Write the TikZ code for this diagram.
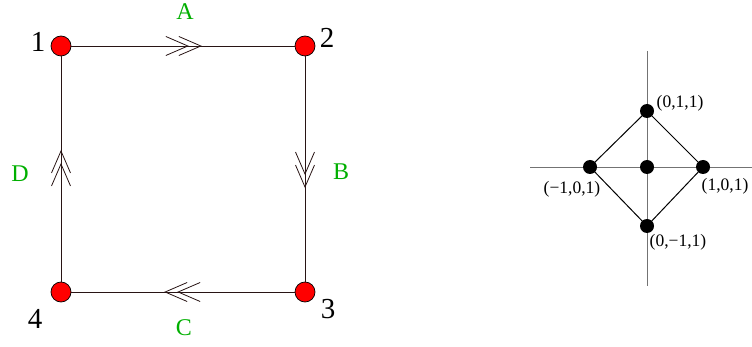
\documentclass[tikz,border=0pt]{standalone}
\usepackage{fontspec}
\setmainfont{Liberation Serif}
\usetikzlibrary{decorations.markings}
\definecolor{lblgreen}{RGB}{0,175,0}
\definecolor{edgecol}{RGB}{40,20,20}
\tikzset{
  vtx/.style={circle,draw=black,fill=red,minimum size=20pt,inner sep=0pt,line width=0.7pt},
  dot/.style={circle,fill=black,minimum size=14pt,inner sep=0pt},
  num/.style={font=\fontsize{29}{32}\selectfont,inner sep=0pt},
  glbl/.style={font=\fontsize{24}{28}\selectfont,text=lblgreen,inner sep=0pt},
  clbl/.style={font=\fontsize{17.5}{20}\selectfont,inner sep=0pt},
  sqedge/.style={draw=edgecol,line width=0.9pt,postaction={decorate},
    decoration={markings,mark=at position 0.58 with {
      \draw[edgecol,line width=0.8pt] (-22pt,9.5pt) -- (0pt,0pt) -- (-22pt,-9.5pt);
      \draw[edgecol,line width=0.8pt] (-35pt,9.5pt) -- (-13pt,0pt) -- (-35pt,-9.5pt);}}},
  axis/.style={draw=black!55,line width=0.8pt},
  dedge/.style={draw=black,line width=1pt}
}
\begin{document}
\begin{tikzpicture}[x=1pt,y=-1pt]
\useasboundingbox (0,0) rectangle (752,347);
% square
\node[vtx] (v1) at (61,46) {};
\node[vtx] (v2) at (305,46) {};
\node[vtx] (v3) at (305,292) {};
\node[vtx] (v4) at (61,292) {};
\draw[sqedge] (v1) -- (v2);
\draw[sqedge] (v2) -- (v3);
\draw[sqedge] (v3) -- (v4);
\draw[sqedge] (v4) -- (v1);
\node[num] (n1) at (38,42) {1};
\node[num] (n2) at (327,38) {2};
\node[num] (n3) at (328,309) {3};
\node[num] (n4) at (35,319) {4};
\node[glbl] (la) at (185,12) {A};
\node[glbl] (lb) at (341,172) {B};
\node[glbl] (lc) at (184,328) {C};
\node[glbl] (ld) at (20,174) {D};
% right figure
\coordinate (axl) at (530,167);
\coordinate (axr) at (752,167);
\coordinate (axt) at (647,51);
\coordinate (axb) at (647,286);
\draw[axis] (axl) -- (axr);
\draw[axis] (axt) -- (axb);
\node[dot] (pt) at (647,111) {};
\node[dot] (pl) at (590,167) {};
\node[dot] (pc) at (647,167) {};
\node[dot] (pr) at (703,167) {};
\node[dot] (pb) at (647,226) {};
\draw[dedge] (pt.center) -- (pr.center) -- (pb.center) -- (pl.center) -- cycle;
\node[clbl] (tt) at (680,103) {(0,1,1)};
\node[clbl] (tl) at (572,189) {(−1,0,1)};
\node[clbl] (tr) at (725,186) {(1,0,1)};
\node[clbl] (tb) at (678,242) {(0,−1,1)};
\end{tikzpicture}
\end{document}
